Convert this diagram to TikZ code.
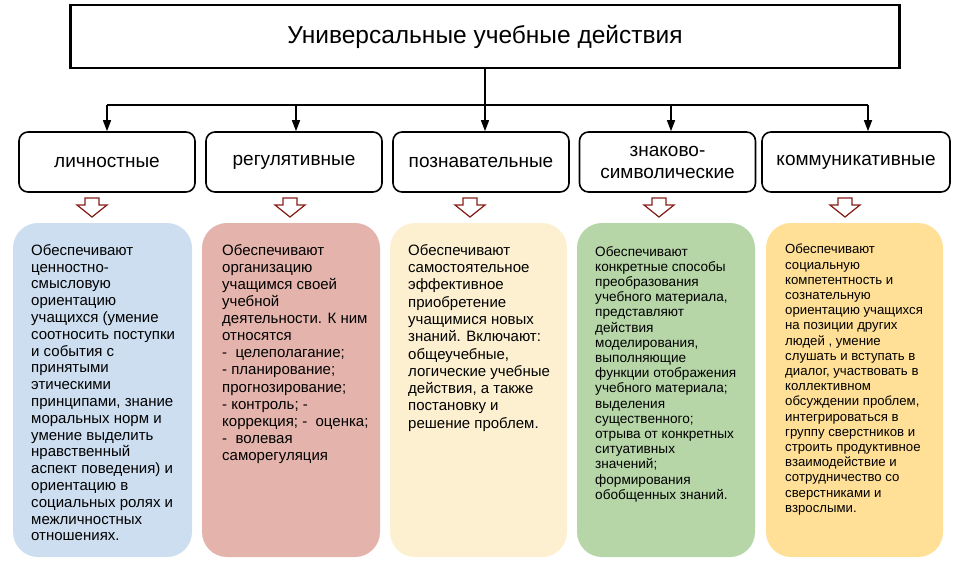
\documentclass[tikz,border=0pt]{standalone}
\usepackage{fontspec}
\setmainfont{Liberation Sans}
\usetikzlibrary{arrows.meta}
\definecolor{lblue}{RGB}{204,222,240}
\definecolor{lrose}{RGB}{228,180,172}
\definecolor{lcream}{RGB}{253,240,208}
\definecolor{lgreen}{RGB}{182,214,168}
\definecolor{lyellow}{RGB}{255,224,150}
\definecolor{arrowred}{RGB}{135,30,25}
\tikzstyle{headbox} = [draw, line width=2.5pt, minimum width=829pt, minimum height=63pt, inner sep=0pt, font=\fontsize{24.5}{30}\selectfont]
\tikzstyle{kindbox} = [draw, line width=1.6pt, rounded corners=9pt, minimum width=176pt, minimum height=60pt, align=center, inner sep=0pt, font=\fontsize{19}{22}\selectfont]
\tikzstyle{infobox} = [rounded corners=25pt, minimum width=178pt, minimum height=334pt, inner sep=0pt]
\tikzstyle{infotext} = [anchor=north west, align=left, inner sep=0pt]
\tikzstyle{blockarrow} = [draw=arrowred, fill=white, line width=1.2pt, line join=miter]
\tikzstyle{link} = [line width=1.4pt, -{Triangle[length=11pt,width=8pt]}]
\newcommand{\downarrowat}[1]{\draw[blockarrow] (#1) ++(-7,0) -- ++(14,0) -- ++(0,7) -- ++(8,0) -- ++(-15,12) -- ++(-15,-12) -- ++(8,0) -- cycle;}

\begin{document}
\begin{tikzpicture}[x=1pt,y=-1pt]
    \useasboundingbox (0,0) rectangle (960,568);
    \draw (485,36.5) node[headbox] (uud) {Универсальные учебные действия};

    \draw (107,162) node[kindbox] (k1) {личностные};
    \draw (294,162) node[kindbox] (k2) {регулятивные};
    \draw (481,162) node[kindbox] (k3) {познавательные};
    \draw (667.5,162) node[kindbox] (k4) {знаково-\\символические};
    \draw (856,162) node[kindbox, minimum width=188pt] (k5) {коммуникативные};

    \coordinate (j1) at (107,105);
    \coordinate (j2) at (296,105);
    \coordinate (j4) at (671,105);
    \coordinate (j5) at (868,105);
    \draw[line width=1.4pt] (j1) -- (j5);
    \draw[link] (uud.south) -- (uud.south |- k3.north);
    \draw[link] (j1) -- (j1 |- k1.north);
    \draw[link] (j2) -- (j2 |- k2.north);
    \draw[link] (j4) -- (j4 |- k4.north);
    \draw[link] (j5) -- (j5 |- k5.north);

    % block arrows under the kinds
    \coordinate (a1) at (92,198);
    \coordinate (a2) at (290,198);
    \coordinate (a3) at (470,198);
    \coordinate (a4) at (659,198);
    \coordinate (a5) at (845,198);
    \downarrowat{a1} \downarrowat{a2} \downarrowat{a3} \downarrowat{a4} \downarrowat{a5}

    \node[infobox, fill=lblue, minimum width=179pt] (b1) at (102.5,390) {};
    \node[infobox, fill=lrose] (b2) at (291,390) {};
    \node[infobox, fill=lcream, minimum width=177pt] (b3) at (478.5,390) {};
    \node[infobox, fill=lgreen] (b4) at (666,390) {};
    \node[infobox, fill=lyellow, minimum width=177pt] (b5) at (854.5,390) {};

    \node[infotext, font=\fontsize{15}{16.8}\selectfont] (t1) at (31,244) {Обеспечивают\\ценностно-\\смысловую\\ориентацию\\учащихся (умение\\соотносить поступки\\и события с\\принятыми\\этическими\\принципами, знание\\моральных норм и\\умение выделить\\нравственный\\аспект поведения) и\\ориентацию в\\социальных ролях и\\межличностных\\отношениях.};
    \node[infotext, font=\fontsize{15}{17.1}\selectfont] (t2) at (222,244) {Обеспечивают\\организацию\\учащимся своей\\учебной\\деятельности. К ним\\относятся\\-\ \ целеполагание;\\- планирование;\\прогнозирование;\\- контроль; -\\коррекция; -\ \ оценка;\\-\ \ волевая\\саморегуляция};
    \node[infotext, font=\fontsize{15}{17.3}\selectfont] (t3) at (408,244) {Обеспечивают\\самостоятельное\\эффективное\\приобретение\\учащимися новых\\знаний. Включают:\\общеучебные,\\логические учебные\\действия, а также\\постановку и\\решение проблем.};
    \node[infotext, font=\fontsize{13.6}{15.2}\selectfont] (t4) at (595,246) {Обеспечивают\\конкретные способы\\преобразования\\учебного материала,\\представляют\\действия\\моделирования,\\выполняющие\\функции отображения\\учебного материала;\\выделения\\существенного;\\отрыва от конкретных\\ситуативных\\значений;\\формирования\\обобщенных знаний.};
    \node[infotext, font=\fontsize{13.2}{15.2}\selectfont] (t5) at (785,244) {Обеспечивают\\социальную\\компетентность и\\сознательную\\ориентацию учащихся\\на позиции других\\людей , умение\\слушать и вступать в\\диалог, участвовать в\\коллективном\\обсуждении проблем,\\интегрироваться в\\группу сверстников и\\строить продуктивное\\взаимодействие и\\сотрудничество со\\сверстниками и\\взрослыми.};
\end{tikzpicture}
\end{document}
